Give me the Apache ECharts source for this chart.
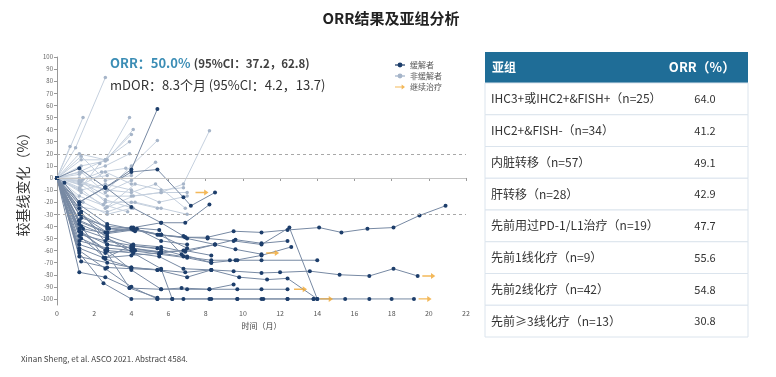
<!DOCTYPE html>
<html><head><meta charset="utf-8">
<script src="https://cdn.jsdelivr.net/npm/echarts@6/dist/echarts.min.js"></script>
<style>html,body{margin:0;padding:0;background:#fff}#c{width:776px;height:377px}</style>
</head><body><div id="c"></div>
<script>
// ---- Data ----
const xTicks = [0,2,4,6,8,10,12,14,16,18,20,22];
const yTicks = [-100,-90,-80,-70,-60,-50,-40,-30,-20,-10,0,10,20,30,40,50,60,70,80,90,100];
const refLines = {dashed:[20,-30], solid:[0]};

const responders = [
 [[0,0],[1.2,-35],[2.7,-45],[4.1,-42],[5.6,-47],[6.9,-49],[8.1,-49],[9.5,-44],[11,-45],[12.4,-43],[14.1,-41],[15.3,-45],[16.7,-42],[18.1,-41],[19.5,-31],[20.9,-23]],
 [[0,0],[1.3,-50],[2.7,-60],[4.1,-62],[5.5,-65],[6.8,-75],[8.3,-76],[9.5,-77],[11,-78.5],[12,-78],[13.6,-77],[15.2,-80],[16.8,-81],[18.1,-75],[19.4,-81]],
 [[0,0],[1.2,-60],[2.6,-75],[4.0,-90],[5.4,-100],[6.8,-100],[8.2,-100],[9.7,-100],[11,-100],[12.4,-100],[13.8,-100],[15.5,-100],[16.8,-100],[18,-100],[19.2,-100]],
 [[0,0],[1.3,-45],[2.7,-60],[4,-76],[5.6,-92],[7,-92],[8.2,-92],[9.7,-92],[11,-92],[12.4,-92]],
 [[0,0],[1.3,-30],[2.7,-50],[4.1,-62],[5.6,-75],[6.2,-100],[8.3,-100],[9.7,-100],[11.1,-100],[12.4,-100],[13.8,-100]],
 [[0,0],[1.2,-22],[2.7,-38],[4,-42],[5.6,-47],[7,-50],[8.5,-55],[9.6,-51],[11,-54],[12.4,-52]],
 [[0,0],[1.3,-45],[2.7,-55],[4.1,-58],[5.5,-62],[6.8,-65],[8.3,-68],[9.3,-68],[9.7,-68],[11,-68],[14,-68]],
 [[0,0],[1.2,-38],[2.7,-48],[4.1,-55],[5.6,-57],[6.9,-61],[8.5,-55],[9.6,-59],[11,-63]],
 [[0,0],[1.2,-55],[2.6,-62],[4,-60],[5.5,-63],[7,-66],[8.3,-70],[9.6,-68],[11,-64],[12.6,-57]],
 [[0,0],[1.2,-30],[2.7,-45],[4.1,-42],[5.4,-47],[6.9,-49],[8.1,-50],[9.5,-52],[11,-55],[12.5,-41],[14,-100]],
 [[0,0],[1.3,-69],[2.7,-74],[4,-75],[5.4,-76],[7,-82],[8.3,-76],[9.8,-82],[11.3,-84],[12.4,-83],[14,-100]],
 [[0,0],[1.2,8],[2.6,-8],[4,7],[5.4,57]],
 [[0,0],[0.4,-4],[1.2,-20],[2.6,-8],[4,5],[5.4,7],[6.8,-16],[7.2,-23],[8.5,-12]],
 [[0,0],[1.2,-62],[2.5,-87],[4,-100],[5.4,-100],[6.2,-100]],
 [[0,0],[1.2,-78],[2.6,-82],[3.9,-91],[5.6,-92],[6.7,-91],[8.2,-92],[9.5,-88]],
 [[0,0],[1.3,-40],[2.6,-67],[4,-74],[5.4,-76],[6.9,-78],[8.3,-76]],
 [[0,0],[1.2,-52],[2.7,-58],[4.1,-60],[5.6,-61],[6.9,-60],[8.3,-64]],
 [[0,0],[1.2,-36],[2.6,-45],[4.1,-41],[5.6,-37],[6.9,-37],[8.2,-22]],
 [[0,0],[1.2,-20],[2.6,-7.5],[4,-24],[5.6,-37],[6.8,-48]],
 [[0,0],[1.4,-42],[2.7,-46],[4.1,-43],[5.5,-47],[7,-58]],
 [[0,0],[1.2,-25],[2.7,-42],[4,-41],[5.5,-43],[6.7,-63],[8.3,-70]],
 [[0,0],[1.2,-65],[2.7,-70],[4,-74],[5.6,-76]],
 [[0,0],[1.3,-47],[2.6,-52],[4.1,-56],[5.4,-58]],
 [[0,0],[1.2,-30],[2.8,-42],[4.2,-44]],
 [[0,0],[1.2,-58],[2.5,-66],[4,-64],[5.6,-62],[6.8,-60],[8.5,-55]],
 [[0,0],[1.3,-33],[2.7,-40],[4.3,-42],[5.6,-52],[7,-55]],
 [[0,0],[1.2,-44],[2.6,-60],[3.9,-91],[5.4,-99]],
 [[0,0],[1.2,-42],[2.7,-50],[4.2,-60]],
 [[0,0],[1.3,-28],[2.7,-55],[4,-58],[5.6,-61]],
 [[0,0],[1.2,-48],[2.6,-66],[4,-56],[5.6,-59],[7,-65]]
];
const nonResponders = [
 [[0,0],[1.4,50]],
 [[0,0],[1.0,25],[2.6,83]],
 [[0,0],[0.7,26]],
 [[0,0],[1.2,20],[2.6,15],[3.9,50]],
 [[0,0],[1.3,10],[2.6,14],[4.1,40]],
 [[0,0],[1.2,5],[2.6,15],[4.0,36]],
 [[0,0],[1.3,-3],[2.7,-10],[4.0,10],[5.4,31]],
 [[0,0],[1.2,-3],[2.7,-15],[4,-15],[5.6,-12],[6.8,-5],[8.2,39]],
 [[0,0],[1.2,-8],[2.6,-25],[4.1,-15],[5.6,-12],[7.0,-12]],
 [[0,0],[1.2,0],[2.6,-20],[4,-20],[5.4,-25]],
 [[0,0],[1.3,18],[2.6,-2],[4,2]],
 [[0,0],[1.4,-1],[2.7,2]],
 [[0,0],[1.2,-5],[2.6,-18],[4.1,-25]],
 [[0,0],[1.3,-12],[2.5,-22],[3.8,-28]],
 [[0,0],[1.2,-15],[2.7,-24],[4.2,-5],[5.6,-10],[6.8,-8]],
 [[0,0],[1.3,-10],[2.6,-5],[4,-10],[5.5,-20],[7,-15]],
 [[0,0],[1.2,3],[2.6,10],[3.9,20]],
 [[0,0],[1.4,-20],[2.7,-30],[4,-25]],
 [[0,0],[1.2,-2],[2.4,5],[3.7,8]],
 [[0,0],[1.3,-24],[2.7,-28],[4.2,-20],[5.6,-25],[7,-30]],
 [[0,0],[1.2,-10],[2.3,12],[3.9,30]],
 [[0,0],[1.3,5],[2.6,-12],[4,-2],[5.3,13]],
 [[0,0],[1.2,-4],[2.7,-10],[4,-12],[5.3,-5],[6.9,-25]],
 [[0,0],[1.3,15],[2.7,15]],
 [[0,0],[1.3,-6],[2.6,5],[4.0,-5]]
];
const continuing = [[7.8,-12],[11.6,-62],[13.1,-92],[14.5,-100],[20.0,-81],[19.8,-100]];

const subgroups = ['IHC3+或IHC2+&FISH+（n=25）','IHC2+&FISH-（n=34）','内脏转移（n=57）','肝转移（n=28）','先前用过PD-1/L1治疗（n=19）','先前1线化疗（n=9）','先前2线化疗（n=42）','先前≥3线化疗（n=13）'];
const orrValues = ['64.0','41.2','49.1','42.9','47.7','55.6','54.8','30.8'];

// ---- Build ----
const FONT = '"Noto Sans CJK SC","Noto Sans",sans-serif';
const series = [];
nonResponders.forEach(d => series.push({
  name:'非缓解者', type:'line', data:d, symbol:'circle', symbolSize:3.5, z:2,
  itemStyle:{color:'#a6b5c9'}, lineStyle:{color:'#c5d0de', width:1}, silent:true
}));
responders.forEach(d => series.push({
  name:'缓解者', type:'line', data:d, symbol:'circle', symbolSize:4, z:3,
  itemStyle:{color:'#1d3e6b'}, lineStyle:{color:'#7789a3', width:1}, silent:true
}));
series.push({
  name:'继续治疗', type:'scatter', data:continuing, z:4,
  symbol:'path://M0,4 L12,4 L12,0.5 L18,5 L12,9.5 L12,6 L0,6 Z',
  symbolSize:[13,6], itemStyle:{color:'#f0a630'}
});
series.push({
  type:'line', data:[], silent:true, z:1,
  markLine:{symbol:'none', silent:true, label:{show:false},
    data: refLines.dashed.map(v=>({yAxis:v, lineStyle:{type:[3,3], color:'#a8a8a8', width:1}}))
      .concat(refLines.solid.map(v=>({yAxis:v, lineStyle:{type:'solid', color:'#c4c4c4', width:1.2}})))
  }
});

// table graphics
const tX = 485, tW = 263, hdrY = 52, hdrH = 31, rowH = 31.75;
const graphics = [];
graphics.push({type:'rect', shape:{x:tX, y:hdrY, width:tW, height:hdrH}, style:{fill:'#1f6d97'}});
graphics.push({type:'text', x:492, y:hdrY+hdrH/2, style:{text:'亚组', fill:'#fff', font:'bold 12px '+FONT, textVerticalAlign:'middle'}});
graphics.push({type:'text', x:702, y:hdrY+hdrH/2, style:{text:'ORR（%）', fill:'#fff', font:'bold 13px '+FONT, textAlign:'center', textVerticalAlign:'middle'}});
subgroups.forEach((s,i) => {
  const y0 = hdrY + hdrH + i*rowH;
  graphics.push({type:'rect', shape:{x:tX, y:y0, width:tW, height:rowH}, style:{fill:'#fff', stroke:'#dbe4ed', lineWidth:1}});
  graphics.push({type:'text', x:491, y:y0+rowH/2, style:{text:s, fill:'#333', font:'12px '+FONT, textVerticalAlign:'middle'}});
  graphics.push({type:'text', x:705, y:y0+rowH/2, style:{text:orrValues[i], fill:'#333', font:'11px '+FONT, textAlign:'center', textVerticalAlign:'middle'}});
});
// annotations
graphics.push({type:'text', left:110, top:57, style:{
  text:'{a|ORR：50.0%} {b|(95%CI：37.2，62.8)}',
  rich:{a:{fill:'#3b8db5', font:'bold 13px '+FONT}, b:{fill:'#404040', font:'bold 11.5px '+FONT}}
}});
graphics.push({type:'text', left:110, top:79, style:{text:'mDOR：8.3个月 (95%CI：4.2，13.7)', fill:'#333', font:'13px '+FONT}});
graphics.push({type:'text', left:21, top:355, style:{text:'Xinan Sheng, et al. ASCO 2021. Abstract 4584.', fill:'#444', font:'8px '+FONT}});

const chart = echarts.init(document.getElementById('c'), null, {renderer:'canvas'});
chart.setOption({
  animation:false,
  textStyle:{fontFamily:FONT},
  title:{text:'ORR结果及亚组分析', left:386, textAlign:'center', top:6,
    textStyle:{fontSize:15, fontWeight:'bold', color:'#222', fontFamily:FONT}},
  legend:{orient:'vertical', left:389, top:56, itemGap:3, itemWidth:10, itemHeight:6,
    data:['缓解者','非缓解者','继续治疗'], textStyle:{fontSize:8, color:'#555', fontFamily:FONT},
    selectedMode:false},
  grid:{left:57, right:310, top:57, bottom:72, containLabel:false},
  xAxis:{type:'value', min:0, max:22, interval:2,
    name:'时间（月）', nameLocation:'middle', nameGap:15,
    nameTextStyle:{fontSize:8, color:'#444'},
    axisLine:{lineStyle:{color:'#999'}}, axisTick:{length:3, lineStyle:{color:'#999'}},
    axisLabel:{fontSize:7, color:'#555', margin:5}, splitLine:{show:false}},
  yAxis:{type:'value', min:-105, max:100,
    name:'较基线变化（%）', nameLocation:'middle', nameGap:21,
    nameTextStyle:{fontSize:14, color:'#333'},
    axisLine:{show:true, lineStyle:{color:'#999'}},
    axisTick:{show:true, length:3, customValues:yTicks, lineStyle:{color:'#999'}},
    axisLabel:{fontSize:6, color:'#666', margin:4, customValues:yTicks},
    splitLine:{show:false}},
  series: series,
  graphic: graphics
});
</script></body></html>
